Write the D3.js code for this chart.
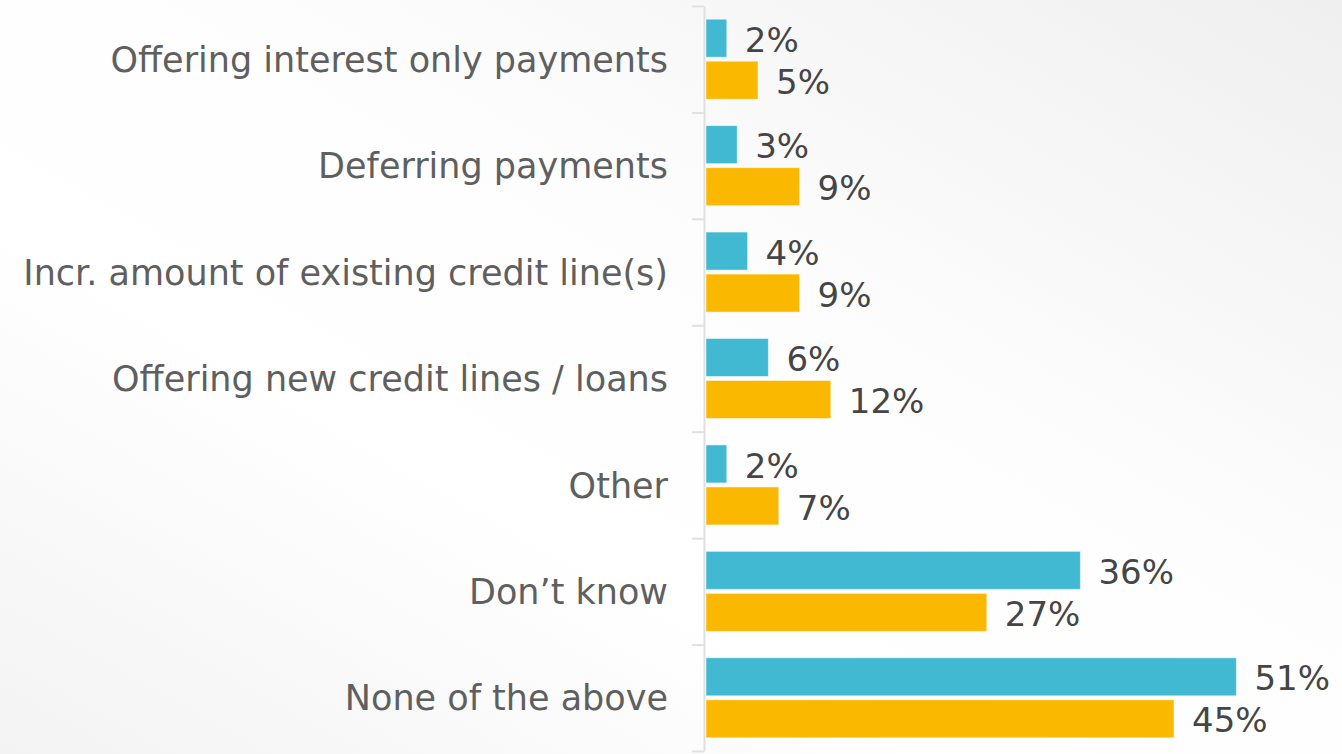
<!DOCTYPE html>
<html>
<head>
<meta charset="utf-8">
<script src="https://cdn.jsdelivr.net/npm/d3@7"></script>
<style>
  html, body { margin: 0; padding: 0; overflow: hidden; }
  svg { display: block; }
</style>
</head>
<body>
<div id="chart"></div>
<script>
// categories top to bottom, two series per category
const categories = [
  "Offering interest only payments",
  "Deferring payments",
  "Incr. amount of existing credit line(s)",
  "Offering new credit lines / loans",
  "Other",
  "Don\u2019t know",
  "None of the above"
];
const series = ["first", "second"];
const firstValues = [2, 3, 4, 6, 2, 36, 51];
const secondValues = [5, 9, 9, 12, 7, 27, 45];
const colors = ["#41b9d3", "#fab800"];

const width = 1342;
const height = 754;
const margin = { top: 6, right: 12, bottom: 3, left: 706 };

const svg = d3.select("#chart")
  .append("svg")
  .attr("width", width)
  .attr("height", height);

// soft diagonal background
const defs = svg.append("defs");
const grad = defs.append("linearGradient")
  .attr("id", "bg")
  .attr("x1", "100%").attr("y1", "0%")
  .attr("x2", "0%").attr("y2", "100%");
grad.append("stop").attr("offset", "0%").attr("stop-color", "#efefef");
grad.append("stop").attr("offset", "40%").attr("stop-color", "#fdfdfd");
grad.append("stop").attr("offset", "65%").attr("stop-color", "#ffffff");
grad.append("stop").attr("offset", "100%").attr("stop-color", "#f3f3f3");
svg.append("rect").attr("width", width).attr("height", height).attr("fill", "url(#bg)");

const x = d3.scaleLinear()
  .domain([0, 60])
  .range([margin.left, margin.left + 624]);

const y = d3.scaleBand()
  .domain(categories)
  .range([margin.top, height - margin.bottom]);

const ySub = d3.scaleBand()
  .domain(series)
  .range([0, y.step()])
  .paddingInner(0.095)
  .paddingOuter(0.314);

// axis line with ticks at category boundaries
const yEdges = d3.scaleLinear()
  .domain([0, categories.length])
  .range([margin.top, height - margin.bottom]);

const axis = svg.append("g")
  .attr("transform", `translate(${margin.left - 2},0)`)
  .call(d3.axisLeft(yEdges)
    .ticks(categories.length)
    .tickSize(12)
    .tickSizeOuter(0)
    .tickFormat(""));
axis.selectAll("path, line")
  .attr("stroke", "#e0e0e0")
  .attr("stroke-width", 2);

// category labels
svg.append("g")
  .selectAll("text")
  .data(categories)
  .join("text")
  .attr("x", 668)
  .attr("y", d => y(d) + y.bandwidth() / 2)
  .attr("dy", "0.36em")
  .attr("text-anchor", "end")
  .attr("font-family", "DejaVu Sans, sans-serif")
  .attr("font-size", 35)
  .attr("fill", "#5f5f5f")
  .text(d => d);

const rows = categories.map((c, i) => ({
  category: c,
  values: [
    { key: series[0], value: firstValues[i] },
    { key: series[1], value: secondValues[i] }
  ]
}));

const groups = svg.append("g")
  .selectAll("g")
  .data(rows)
  .join("g")
  .attr("transform", d => `translate(0,${y(d.category)})`);

groups.selectAll("rect")
  .data(d => d.values)
  .join("rect")
  .attr("x", x(0))
  .attr("y", d => ySub(d.key))
  .attr("width", d => x(d.value) - x(0))
  .attr("height", ySub.bandwidth())
  .attr("fill", (d, i) => colors[i])
  .attr("stroke", "#ffffff")
  .attr("stroke-opacity", 0.5)
  .attr("stroke-width", 1);

groups.selectAll("text")
  .data(d => d.values)
  .join("text")
  .attr("x", d => x(d.value) + 18)
  .attr("y", d => ySub(d.key) + ySub.bandwidth() / 2)
  .attr("dy", "0.4em")
  .attr("font-family", "DejaVu Sans, sans-serif")
  .attr("font-size", 34)
  .attr("fill", "#454545")
  .text(d => d.value + "%");
</script>
</body>
</html>
